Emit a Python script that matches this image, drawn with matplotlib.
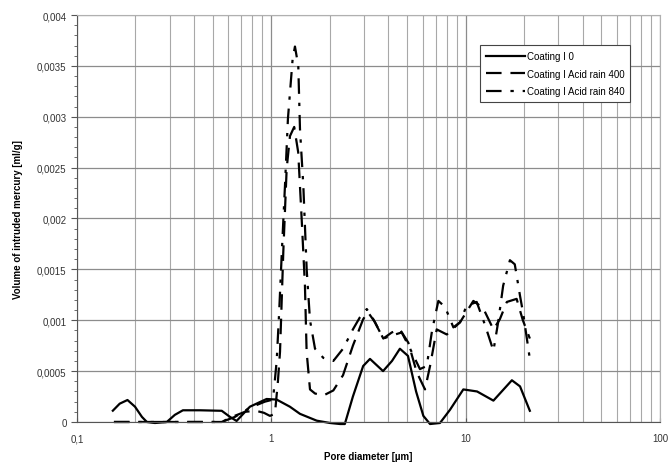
import matplotlib
matplotlib.use("Agg")
import matplotlib.pyplot as plt
from matplotlib.ticker import FuncFormatter, MultipleLocator, LogLocator, NullFormatter
import numpy as np

plt.rcParams['font.family'] = ['Liberation Sans', 'DejaVu Sans']

# Coating I 0
x_c0 = [0.153, 0.166, 0.182, 0.199, 0.216, 0.229, 0.252, 0.290, 0.319, 0.351, 0.430,
        0.556, 0.613, 0.663, 0.776, 0.946, 1.066, 1.247, 1.405, 1.713, 2.006, 2.26,
        2.39, 2.63, 2.97, 3.22, 3.76, 4.18, 4.59, 5.05, 5.56, 6.06, 6.56, 7.38, 8.31,
        9.73, 11.45, 13.9, 17.3, 19.05, 21.4]
y_c0 = [0.000111, 0.00018, 0.000216, 0.00015, 0.00005, 0.0, -0.00001, 0.0, 0.00007,
        0.000115, 0.000115, 0.00011, 0.00005, 0.00001, 0.00015, 0.000226, 0.00022,
        0.00015, 0.00008, 0.000013, -0.00001, -0.00002, -0.00002, 0.00025, 0.00055,
        0.00062, 0.0005, 0.0006, 0.00072, 0.00065, 0.0003, 0.00006, -0.00002, -0.00001,
        0.00012, 0.00032, 0.0003, 0.00021, 0.00041, 0.00035, 0.00011]

# Coating I Acid rain 400
x_400 = [0.155, 0.556, 0.628, 0.732, 0.834, 0.917, 0.984, 1.044, 1.082, 1.109, 1.153,
         1.200, 1.248, 1.312, 1.376, 1.433, 1.490, 1.52, 1.582, 1.679, 1.853, 2.086,
         2.34, 2.63, 2.97, 3.14, 3.42, 3.77, 4.17, 4.59, 5.07, 5.60, 6.18, 6.56, 7.10,
         8.00, 9.36, 10.96, 12.3, 13.9, 15.0, 16.3, 18.3, 19.7, 21.4]
y_400 = [0.0, 0.0, 0.00005, 0.0001, 0.00011, 0.00009, 0.00006, 0.00008, 0.0004,
         0.00069, 0.00167, 0.00249, 0.00281, 0.0029, 0.00265, 0.002, 0.00134, 0.00069,
         0.00032, 0.00028, 0.00026, 0.00031, 0.00046, 0.00075, 0.00101, 0.00108,
         0.00098, 0.00082, 0.00088, 0.00091, 0.00078, 0.00049, 0.00032, 0.00055,
         0.00091, 0.00086, 0.00098, 0.00119, 0.00112, 0.00091, 0.00101, 0.00118,
         0.00121, 0.001, 0.00082]

# Coating I Acid rain 840
x_840 = [0.155, 0.556, 0.650, 0.776, 0.928, 1.021, 1.066, 1.096, 1.135, 1.176, 1.218,
         1.288, 1.324, 1.377, 1.405, 1.462, 1.521, 1.582, 1.679, 1.853, 2.086, 2.34,
         2.63, 2.86, 3.10, 3.35, 3.77, 4.17, 4.69, 5.18, 5.82, 6.31, 6.72, 7.24, 7.84,
         8.65, 9.36, 10.1, 11.4, 12.6, 13.9, 14.7, 15.6, 16.9, 17.9, 19.05, 19.8, 21.4]
y_840 = [0.0, 0.0, 0.00005, 0.00014, 0.0002, 0.00022, 0.0006, 0.00105, 0.0017,
         0.00232, 0.00298, 0.00357, 0.00369, 0.0035, 0.00288, 0.00232, 0.0015, 0.001,
         0.00072, 0.00063, 0.0006, 0.00072, 0.00091, 0.00103, 0.00111, 0.00101,
         0.00082, 0.00085, 0.00088, 0.00072, 0.00052, 0.00055, 0.0009, 0.00119,
         0.00113, 0.00093, 0.00098, 0.00114, 0.00118, 0.00095, 0.0007, 0.00098,
         0.00134, 0.00159, 0.00155, 0.00124, 0.00106, 0.00062]

labels = ["Coating I 0", "Coating I Acid rain 400", "Coating I Acid rain 840"]

fig = plt.figure(figsize=(6.69, 4.64), dpi=100)
ax = fig.add_axes([0.115, 0.0884, 0.8715, 0.8771])

style = dict(color='black', lw=1.6, clip_on=False,
             solid_joinstyle='round', dash_joinstyle='round', dash_capstyle='butt')
ax.plot(x_c0, y_c0, label=labels[0], **style)
ax.plot(x_400, y_400, dashes=(7, 4), label=labels[1], **style)
ax.plot(x_840, y_840, dashes=(7, 4, 1.5, 4), label=labels[2], **style)

ax.set_xscale('log')
ax.set_xlim(0.1, 100)
ax.set_ylim(0, 0.004)

ax.xaxis.set_major_locator(LogLocator(base=10))
ax.xaxis.set_minor_locator(LogLocator(base=10, subs=np.arange(2, 10)))
ax.xaxis.set_minor_formatter(NullFormatter())
ax.yaxis.set_major_locator(MultipleLocator(0.0005))
ax.yaxis.set_minor_locator(MultipleLocator(0.0001))

comma = FuncFormatter(lambda v, p: ("%g" % v).replace('.', ','))
ax.xaxis.set_major_formatter(comma)
ax.yaxis.set_major_formatter(comma)

ax.grid(True, which='major', axis='both', color='#8c8c8c', lw=0.9)
ax.grid(True, which='minor', axis='x', color='#a8a8a8', lw=0.8)
ax.set_axisbelow(True)

ax.tick_params(axis='both', which='major', labelsize=7, color='#555555', labelcolor='#333333')
ax.tick_params(axis='y', which='major', length=4, direction='out')
ax.tick_params(axis='y', which='minor', length=2, direction='out', color='#555555')
ax.tick_params(axis='x', which='major', length=3, direction='in', pad=8)
ax.tick_params(axis='x', which='minor', length=0)

for s in ['top', 'right']:
    ax.spines[s].set_color('#b0b0b0')
for s in ['left', 'bottom']:
    ax.spines[s].set_color('#555555')

ax.set_xlabel("Pore diameter [µm]", fontsize=7, fontweight='bold', labelpad=6)
ax.set_ylabel("Volume of intruded mercury [ml/g]", fontsize=7, fontweight='bold', labelpad=10)

leg = ax.legend(loc='upper right', bbox_to_anchor=(0.957, 0.938), fontsize=7,
                fancybox=False, framealpha=1, edgecolor='#444444', handlelength=4,
                handletextpad=0.2, borderpad=0.6, labelspacing=0.8)
leg.get_frame().set_linewidth(0.8)

fig.savefig("out.png", dpi=100)
